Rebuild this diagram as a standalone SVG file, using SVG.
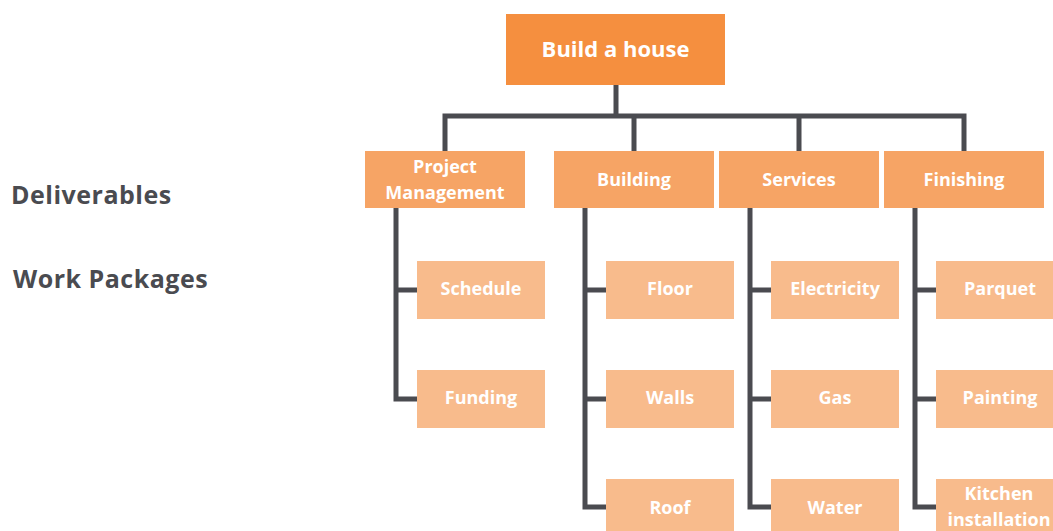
<svg xmlns="http://www.w3.org/2000/svg" width="1053" height="531" viewBox="0 0 1053 531">
<style>
text{font-family:"Open Sans","Noto Sans","Liberation Sans",sans-serif;font-weight:bold;text-anchor:middle;fill:#fff}
.root{fill:#F58F3F}
.del{fill:#F6A465}
.wp{fill:#F8BB8C}
.t1{font-size:22px}
.t2{font-size:18px}
.lbl{font-size:25px;letter-spacing:0.5px;fill:#4A4B50;text-anchor:start}
.ln{stroke:#4A4B50;stroke-width:5;fill:none}
</style>
<text class="lbl" x="11" y="204">Deliverables</text>
<text class="lbl" x="13" y="288">Work Packages</text>
<g id="connectors">
<path class="ln" d="M616,85V116M445,151V116H964V151M634,116V151M799,116V151"/>
<path class="ln" d="M396,208V399H417M396,290H417"/>
<path class="ln" d="M585,208V507H606M585,290H606M585,399H606"/>
<path class="ln" d="M750,208V507H771M750,290H771M750,399H771"/>
<path class="ln" d="M915,208V507H936M915,290H936M915,399H936"/>
</g>
<g id="root"><rect class="root" x="506" y="14" width="219" height="71"/><text class="t1" x="615.5" y="57">Build a house</text></g>
<g id="pm"><rect class="del" x="365" y="151" width="160" height="57"/><text class="t2" x="445" y="173">Project</text><text class="t2" x="445" y="199">Management</text></g>
<g id="building"><rect class="del" x="554" y="151" width="160" height="57"/><text class="t2" x="634" y="186">Building</text></g>
<g id="services"><rect class="del" x="719" y="151" width="160" height="57"/><text class="t2" x="799" y="186">Services</text></g>
<g id="finishing"><rect class="del" x="884" y="151" width="160" height="57"/><text class="t2" x="964" y="186">Finishing</text></g>
<g id="schedule"><rect class="wp" x="417" y="261" width="128" height="58"/><text class="t2" x="481" y="295">Schedule</text></g>
<g id="funding"><rect class="wp" x="417" y="370" width="128" height="58"/><text class="t2" x="481" y="404">Funding</text></g>
<g id="floor"><rect class="wp" x="606" y="261" width="128" height="58"/><text class="t2" x="670" y="295">Floor</text></g>
<g id="walls"><rect class="wp" x="606" y="370" width="128" height="58"/><text class="t2" x="670" y="404">Walls</text></g>
<g id="roof"><rect class="wp" x="606" y="479" width="128" height="58"/><text class="t2" x="670" y="514">Roof</text></g>
<g id="electricity"><rect class="wp" x="771" y="261" width="128" height="58"/><text class="t2" x="835" y="295">Electricity</text></g>
<g id="gas"><rect class="wp" x="771" y="370" width="128" height="58"/><text class="t2" x="835" y="404">Gas</text></g>
<g id="water"><rect class="wp" x="771" y="479" width="128" height="58"/><text class="t2" x="835" y="514">Water</text></g>
<g id="parquet"><rect class="wp" x="936" y="261" width="128" height="58"/><text class="t2" x="1000" y="295">Parquet</text></g>
<g id="painting"><rect class="wp" x="936" y="370" width="128" height="58"/><text class="t2" x="1000" y="404">Painting</text></g>
<g id="kitchen"><rect class="wp" x="936" y="479" width="128" height="58"/><text class="t2" x="999" y="500">Kitchen</text><text class="t2" x="999" y="526">installation</text></g>
</svg>
